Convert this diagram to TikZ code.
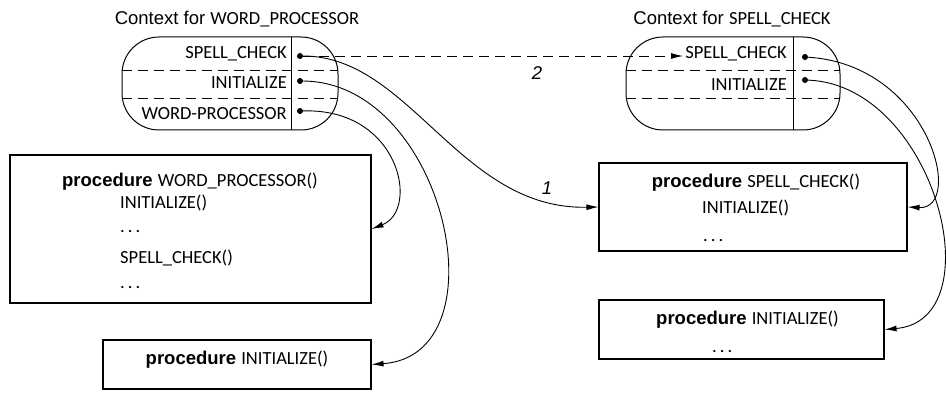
\documentclass[tikz,border=0pt]{standalone}
\usepackage{fontspec}
\setmainfont{Liberation Sans}
\newfontfamily\codefont{Carlito}
\usetikzlibrary{arrows.meta}

\begin{document}
\begin{tikzpicture}[x=1pt,y=-1pt,
    every node/.style={inner sep=0pt,font=\fontsize{18.5}{20}\selectfont},
    code/.style={font=\fontsize{18.5}{20}\selectfont\codefont},
    procbox/.style={draw,line width=1.1pt},
    slot/.style={circle,fill,inner sep=0pt,minimum size=6pt},
    link/.style={line width=0.9pt,-{Latex[length=12pt,width=6pt]}},
    dashrule/.style={line width=0.9pt,dash pattern=on 10pt off 6pt}]
  \useasboundingbox (0,0) rectangle (946,401);

  % context of WORD_PROCESSOR
  \node[anchor=base] (wptitle) at (237,25) {Context for {\codefont\fontsize{18.5}{20}\selectfont WORD\_PROCESSOR}};
  \draw[line width=1pt,rounded corners=37pt] (122,37) rectangle (338,130);
  \draw[line width=1pt] (291,37) -- (291,130);
  \draw[dashrule] (122,70) -- (338,70);
  \draw[dashrule] (122,98) -- (338,98);
  \node[code,anchor=base east] (lsplbl) at (287,59) {SPELL\_CHECK};
  \node[code,anchor=base east] (linilbl) at (287,89) {INITIALIZE};
  \node[code,anchor=base east] (lwplbl) at (287,120) {WORD-PROCESSOR};
  \node[slot] (lsp) at (300,56) {};
  \node[slot] (lini) at (300,81) {};
  \node[slot] (lwp) at (300,111) {};

  % context of SPELL_CHECK
  \node[anchor=base] (sptitle) at (732,25) {Context for {\codefont\fontsize{18.5}{20}\selectfont SPELL\_CHECK}};
  \draw[line width=1pt,rounded corners=37pt] (626,37) rectangle (840,130);
  \draw[line width=1pt] (793,37) -- (793,130);
  \draw[dashrule] (626,70) -- (840,70);
  \draw[dashrule] (626,98) -- (840,98);
  \node[code,anchor=base east] (rsplbl) at (787,59) {SPELL\_CHECK};
  \node[code,anchor=base east] (rinilbl) at (787,91) {INITIALIZE};
  \node[slot] (rsp) at (805,57) {};
  \node[slot] (rini) at (805,80) {};

  % procedure bodies
  \node[procbox,minimum width=361pt,minimum height=148pt] (wpbox) at (190.5,229) {};
  \node[anchor=base] (wphead) at (190,186) {\textbf{procedure} {\codefont\fontsize{18.5}{20}\selectfont WORD\_PROCESSOR()}};
  \node[code,anchor=base west] (wpl1) at (120,209) {INITIALIZE()};
  \node[code,anchor=base west] (wpl2) at (120,233) {.\,.\,.};
  \node[code,anchor=base west] (wpl3) at (120,263) {SPELL\_CHECK()};
  \node[code,anchor=base west] (wpl4) at (120,288) {.\,.\,.};

  \node[procbox,minimum width=268pt,minimum height=49pt] (libox) at (237,364.5) {};
  \node[anchor=base] (lihead) at (237,364) {\textbf{procedure} {\codefont\fontsize{18.5}{20}\selectfont INITIALIZE()}};

  \node[procbox,minimum width=308pt,minimum height=88pt] (spbox) at (753,207) {};
  \node[anchor=base] (sphead) at (756,188) {\textbf{procedure} {\codefont\fontsize{18.5}{20}\selectfont SPELL\_CHECK()}};
  \node[code,anchor=base west] (spl1) at (702,214) {INITIALIZE()};
  \node[code,anchor=base west] (spl2) at (703,241) {.\,.\,.};

  \node[procbox,minimum width=285pt,minimum height=59pt] (ribox) at (741.5,329.5) {};
  \node[anchor=base] (rihead) at (747.5,324) {\textbf{procedure} {\codefont\fontsize{18.5}{20}\selectfont INITIALIZE()}};
  \node[code,anchor=base west] (ril1) at (712,352) {.\,.\,.};

  % links
  \draw[dashrule,-{Latex[length=12pt,width=6pt]},shorten >=2pt] (lsp) -- (lsp -| rsplbl.west);
  \node[font=\fontsize{18.5}{20}\selectfont\itshape] (two) at (537,73) {2};
  \draw[link] (lsp) .. controls (410,56) and (460,210) .. (spbox.west);
  \node[font=\fontsize{18.5}{20}\selectfont\itshape] (one) at (547,188) {1};
  \draw[link] (lini) .. controls (445,82) and (505,355) .. (libox.east);
  \draw[link] (lwp) .. controls (400,108) and (420,210) .. (wpbox.east);
  \draw[link] (rsp) .. controls (930,65) and (965,210) .. (spbox.east);
  \draw[link] (rini) .. controls (935,85) and (995,320) .. (ribox.east);
\end{tikzpicture}
\end{document}
